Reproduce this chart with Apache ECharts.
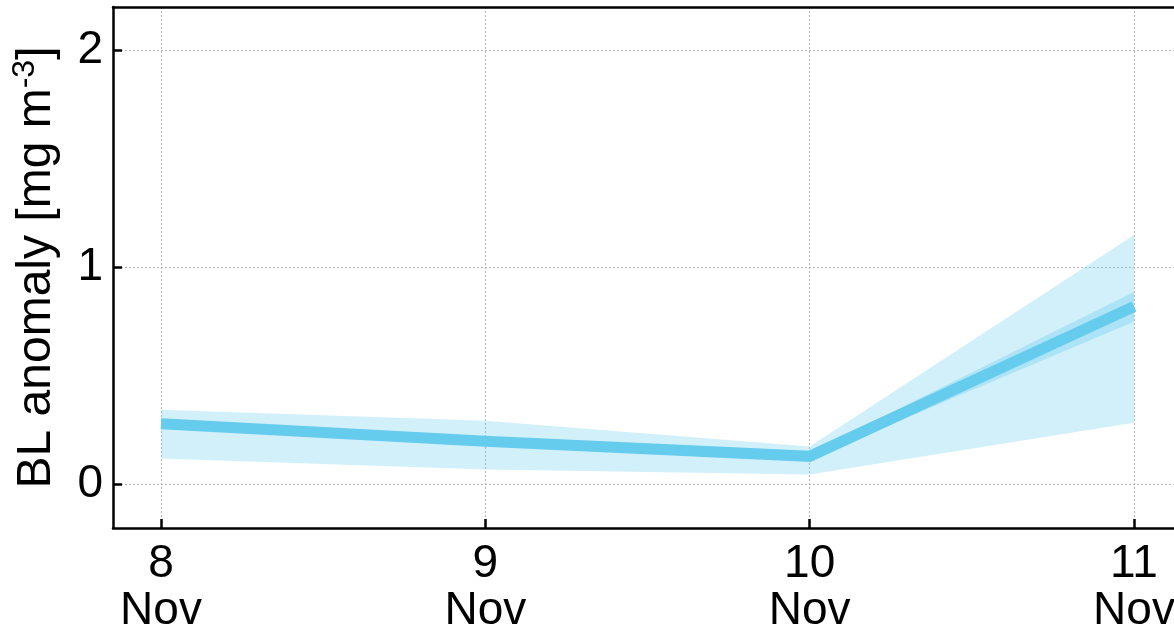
<!DOCTYPE html>
<html><head><meta charset="utf-8">
<script src="https://cdn.jsdelivr.net/npm/echarts@6/dist/echarts.min.js"></script>
<style>html,body{margin:0;padding:0;background:#fff}#c{width:1174px;height:626px}</style>
</head><body><div id="c"></div>
<script>
const days = [8, 9, 10, 11];
const tickLabels = ['8\nNov', '9\nNov', '10\nNov', '11\nNov'];
const meanVals = [0.28, 0.20, 0.13, 0.82];
const outerLow = [0.12, 0.07, 0.046, 0.285];
const outerHigh = [0.345, 0.294, 0.175, 1.15];
const innerLow = [0.265, 0.188, 0.12, 0.75];
const innerHigh = [0.295, 0.215, 0.145, 0.887];
const yTicks = [0, 1, 2];

const col = '#66CCEE';
const font = 'Liberation Sans, Arial, sans-serif';
const pts = a => days.map((d, i) => [d, a[i]]);

function band(lo, hi, fill) {
  return {
    type: 'custom', silent: true, z: 1, clip: true,
    data: days.map((d, i) => [d, lo[i], hi[i]]),
    encode: {x: 0, y: [1, 2]},
    renderItem: function (params, api) {
      if (params.dataIndex !== 0) return null;
      const upper = days.map((d, i) => api.coord([d, hi[i]]));
      const lower = days.map((d, i) => api.coord([d, lo[i]])).reverse();
      return {type: 'polygon', shape: {points: upper.concat(lower)}, style: {fill: fill}};
    }
  };
}

const chart = echarts.init(document.getElementById('c'), null, {renderer: 'canvas'});
chart.setOption({
  animation: false,
  backgroundColor: '#fff',
  grid: {left: 113, top: 7, width: 1069, height: 521, containLabel: false, outerBoundsMode: 'none'},
  xAxis: [{
    type: 'value', min: 7.852, max: 11.148,
    axisLine: {show: true, onZero: false, lineStyle: {color: '#000', width: 2.5}},
    axisTick: {show: true, inside: true, length: 9, customValues: days, lineStyle: {color: '#000', width: 2.5}},
    axisLabel: {customValues: days, color: '#000', fontSize: 46, lineHeight: 47, fontFamily: font, margin: 13,
      formatter: v => tickLabels[days.indexOf(Math.round(v))]},
    splitLine: {show: true, lineStyle: {color: '#bbb', type: [2, 2], width: 1.2}}
  }, {
    type: 'value', position: 'top', min: 7.852, max: 11.148,
    axisLine: {show: true, onZero: false, lineStyle: {color: '#000', width: 2.5}},
    axisTick: {show: false}, axisLabel: {show: false}, splitLine: {show: false}
  }],
  yAxis: [{
    type: 'value', min: -0.2, max: 2.2,
    name: '{a|BL anomaly [mg m}{s|-3}{a|]}',
    nameLocation: 'middle', nameGap: 48, nameRotate: 90,
    nameTextStyle: {rich: {
      a: {fontSize: 48, lineHeight: 56, fontFamily: font, color: '#000'},
      s: {fontSize: 32, lineHeight: 35, fontFamily: font, color: '#000', verticalAlign: 'top'}}},
    axisLine: {show: true, onZero: false, lineStyle: {color: '#000', width: 2.5}},
    axisTick: {show: true, inside: true, length: 9, customValues: yTicks, lineStyle: {color: '#000', width: 2.5}},
    axisLabel: {customValues: yTicks, color: '#000', fontSize: 46, fontFamily: font, margin: 10},
    splitLine: {show: true, lineStyle: {color: '#bbb', type: [2, 2], width: 1.2}}
  }, {
    type: 'value', position: 'right', min: -0.2, max: 2.2,
    axisLine: {show: true, onZero: false, lineStyle: {color: '#000', width: 2.5}},
    axisTick: {show: false}, axisLabel: {show: false}, splitLine: {show: false}
  }],
  series: [
    band(outerLow, outerHigh, 'rgba(102,204,238,0.3)'),
    band(innerLow, innerHigh, 'rgba(102,204,238,0.35)'),
    {type: 'line', data: pts(meanVals), symbol: 'none', lineStyle: {color: col, width: 11, cap: 'butt', join: 'miter'}, z: 3}
  ]
});
</script></body></html>
